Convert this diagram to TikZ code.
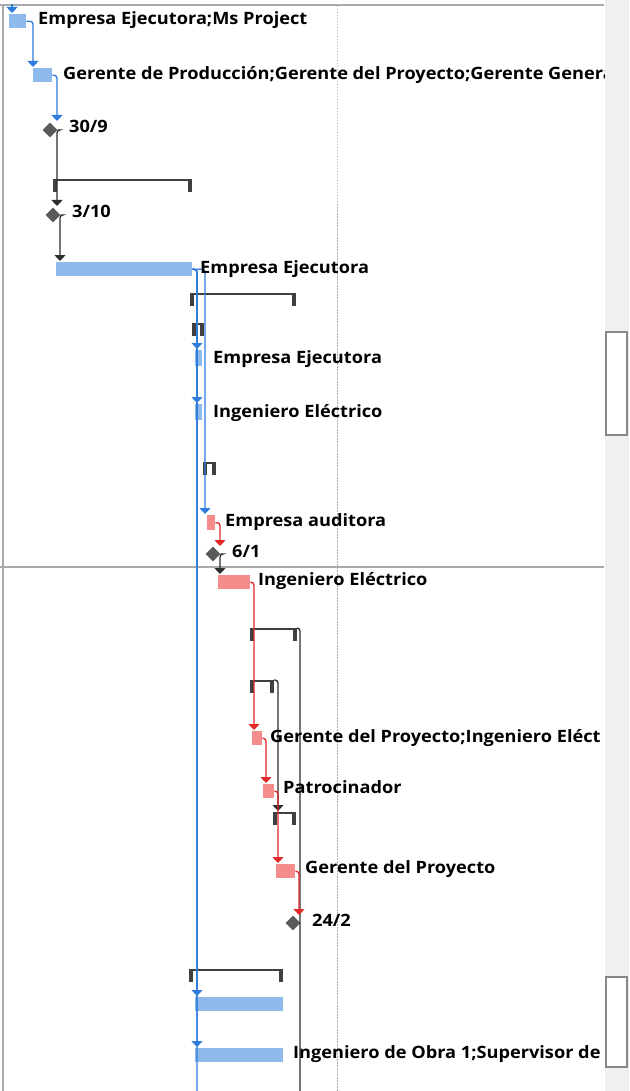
\documentclass[tikz,border=0pt]{standalone}
\usepackage{fontspec}
\setmainfont{Open Sans}
\newfontfamily\lblfam{Open Sans}[FakeStretch=1.07]
\usetikzlibrary{arrows.meta,shapes.geometric,calc}
\definecolor{bluebarc}{RGB}{141,186,235}
\definecolor{bluelinec}{RGB}{46,125,220}
\definecolor{redbarc}{RGB}{244,140,140}
\definecolor{redlinec}{RGB}{226,40,40}
\definecolor{blacklinec}{RGB}{45,45,45}
\definecolor{brkc}{RGB}{64,64,64}
\definecolor{milec}{RGB}{90,90,90}
\definecolor{framec}{RGB}{170,170,170}
\definecolor{panelc}{RGB}{240,240,240}
\newcommand\sumbrk[4]{%
  \coordinate (#1-l) at (#2,#4);
  \coordinate (#1-r) at (#3,#4);
  \fill[brkc] (#1-l) rectangle ($(#1-r)+(0,2.2)$);
  \fill[brkc] (#1-l) rectangle ($(#1-l)+(4,13)$);
  \fill[brkc] ($(#1-r)+(-4,0)$) rectangle ($(#1-r)+(0,13)$);
}
\begin{document}
\begin{tikzpicture}[x=1pt,y=-1pt,
  bluebar/.style={draw=none,fill=bluebarc,inner sep=0,anchor=north west},
  redbar/.style={draw=none,fill=redbarc,inner sep=0,anchor=north west},
  mile/.style={diamond,fill=milec,inner sep=0,minimum size=15pt},
  lbl/.style={inner sep=0,anchor=base west,font=\lblfam\fontsize{17}{20}\selectfont\bfseries,text=black},
  bluecon/.style={draw=bluelinec,line width=1.3pt,rounded corners=3pt,-{Triangle[width=11pt,length=6pt]}},
  redcon/.style={draw=redlinec,line width=1.3pt,rounded corners=3pt,-{Triangle[width=11pt,length=6pt]}},
  blackcon/.style={draw=blacklinec,line width=1.3pt,rounded corners=3pt,-{Triangle[width=11pt,length=6pt]}},
  blackline/.style={draw=blacklinec,line width=1.3pt,rounded corners=3pt},
  blueline/.style={draw=bluelinec,line width=1.3pt,rounded corners=3pt},
]
\useasboundingbox (0,0) rectangle (629,1091);
\fill[white] (0,0) rectangle (629,1091);
% frame and panel
\fill[panelc] (605,0) rectangle (629,1091);
\draw[framec,line width=1.5pt] (0,5) -- (604,5);
\draw[framec,line width=1.2pt] (3,5) -- (3,1091);
\draw[framec,line width=1.2pt] (0,567) -- (604,567);
\draw[framec,line width=1pt,dash pattern=on 1.5pt off 1.5pt] (337,6) -- (337,1091);
\draw[framec!80!black,line width=1.3pt,fill=white] (606,332) rectangle (627,435);
\draw[framec!80!black,line width=1.3pt,fill=white] (606,977) rectangle (627,1067);

% summary brackets
\sumbrk{k1}{53}{192}{179}
\sumbrk{k2}{190}{296}{293}
\sumbrk{k3}{192}{204}{323}
\sumbrk{k4}{203}{216}{462}
\sumbrk{k5}{250}{297}{628}
\sumbrk{k6}{250}{274}{680}
\sumbrk{k7}{273}{296}{812}
\sumbrk{k8}{189}{283}{969}

% bars
\node[bluebar,minimum width=17pt,minimum height=14pt] (b1) at (9,14) {};
\node[bluebar,minimum width=19pt,minimum height=14pt] (b2) at (33,68) {};
\node[bluebar,minimum width=136pt,minimum height=14pt] (b3) at (56,262) {};
\node[bluebar,minimum width=7pt,minimum height=16pt] (b4) at (195,350) {};
\node[bluebar,minimum width=7pt,minimum height=16pt] (b5) at (195,404) {};
\node[redbar,minimum width=8pt,minimum height=15pt] (b6) at (207,515) {};
\node[redbar,minimum width=32pt,minimum height=14pt] (b7) at (218,575) {};
\node[redbar,minimum width=10pt,minimum height=14pt] (b8) at (252,731) {};
\node[redbar,minimum width=11pt,minimum height=14pt] (b9) at (263,784) {};
\node[redbar,minimum width=19pt,minimum height=14pt] (b10) at (276,864) {};
\node[bluebar,minimum width=88pt,minimum height=14pt] (b11) at (195,997) {};
\node[bluebar,minimum width=88pt,minimum height=14pt] (b12) at (195,1048) {};

% milestones
\node[mile] (m1) at (50,130) {};
\node[mile] (m2) at (53,215) {};
\node[mile] (m3) at (213,554) {};
\node[mile] (m4) at (293,923) {};

% arrow tip coordinates
\coordinate (top1) at (12,4);
\coordinate (a1) at (12,13);
\coordinate (a2) at (33,67);
\coordinate (a3) at (57,121);
\coordinate (a4) at (57,206);
\coordinate (a5) at (60,261);
\coordinate (a6) at (197,349);
\coordinate (a7) at (197,403);
\coordinate (a8) at (205,514);
\coordinate (a9) at (220,546);
\coordinate (a10) at (220,574);
\coordinate (a11) at (254,730);
\coordinate (a12) at (266,783);
\coordinate (a13) at (278,863);
\coordinate (a14) at (299,915);
\coordinate (a15) at (197,996);
\coordinate (a16) at (197,1047);
\coordinate (a17) at (278,811);
\coordinate (bot1) at (197,1091);
\coordinate (bot2) at (300,1091);

% black connectors
\draw[blackline] (k5-r) -| (bot2);
\draw[blackcon] (k6-r) -| (a17);
\draw[blackcon] (m1.east) -| (a4);
\draw[blackcon] (m2.east) -| (a5);
\draw[blackcon] (m3.east) -| (a10);

% blue connectors
\draw[bluecon] (top1) -- (a1);
\draw[bluecon] (b1.east) -| (a2);
\draw[bluecon] (b2.east) -| (a3);
\draw[blueline] (b3.east) -| (bot1);
\draw[bluecon] (b3.east) -| (a6);
\draw[bluecon] (b3.east) -| (a7);
\draw[bluecon] (b3.east) -| (a8);
\draw[bluecon] (b3.east) -| (a15);
\draw[bluecon] (b3.east) -| (a16);

% red connectors
\draw[redcon] (b6.east) -| (a9);
\draw[redcon] (b7.east) -| (a11);
\draw[redcon] (b8.east) -| (a12);
\draw[redcon] (b9.east) -| (a13);
\draw[redcon] (b10.east) -| (a14);

% labels
\begin{scope}
\clip (0,0) rectangle (604,1091);
\node[lbl] (t1) at (38,25) {Empresa Ejecutora;Ms Project};
\node[lbl] (t2) at (63,80) {Gerente de Producción;Gerente del Proyecto;Gerente Genera};
\node[lbl] (t3) at (69,133) {30/9};
\node[lbl] (t4) at (72,218) {3/10};
\node[lbl] (t5) at (200,273) {Empresa Ejecutora};
\node[lbl] (t6) at (213,363) {Empresa Ejecutora};
\node[lbl] (t7) at (213,417) {Ingeniero Eléctrico};
\node[lbl] (t8) at (225,526) {Empresa auditora};
\node[lbl] (t9) at (232,557) {6/1};
\node[lbl] (t10) at (258,585) {Ingeniero Eléctrico};
\node[lbl] (t11) at (270,742) {Gerente del Proyecto;Ingeniero Eléct};
\node[lbl] (t12) at (283,793) {Patrocinador};
\node[lbl] (t13) at (305,873) {Gerente del Proyecto};
\node[lbl] (t14) at (312,926) {24/2};
\node[lbl] (t15) at (293,1058) {Ingeniero de Obra 1;Supervisor de};
\end{scope}
\end{tikzpicture}
\end{document}
